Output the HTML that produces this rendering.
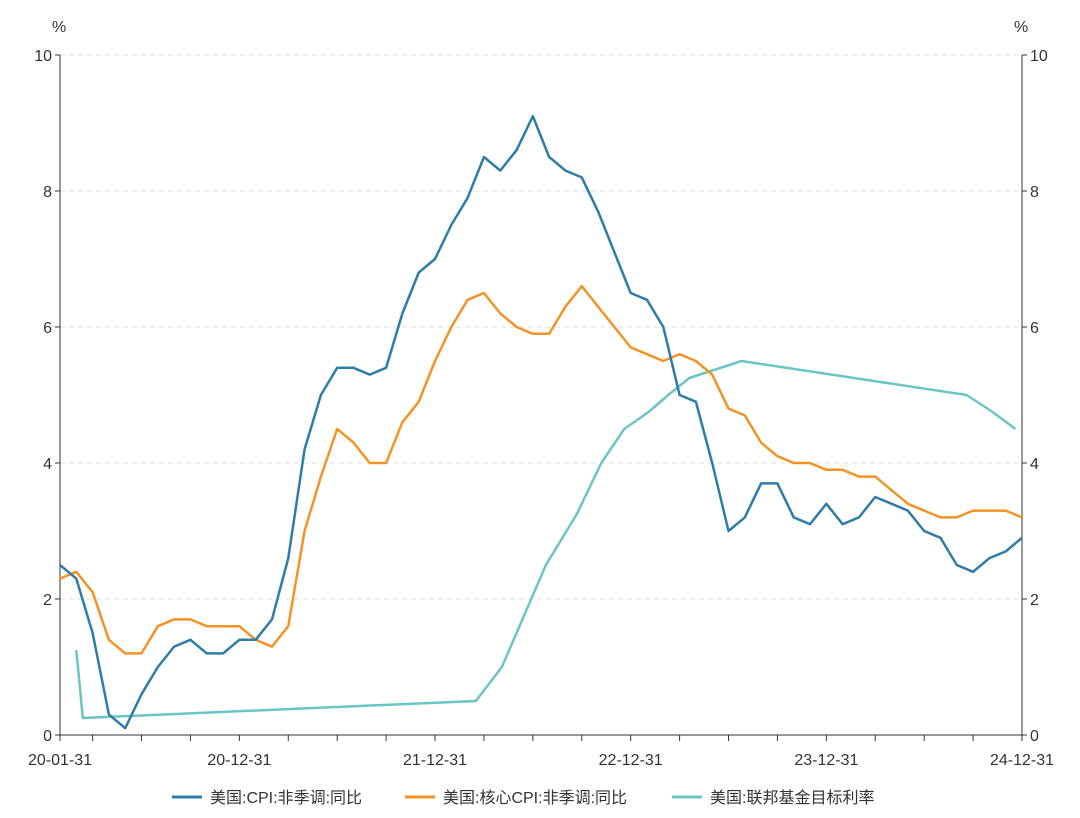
<!DOCTYPE html>
<html><head><meta charset="utf-8"><style>
body{margin:0;background:#fff;}
svg{display:block;font-family:"Liberation Sans","Noto Sans CJK SC",sans-serif;}
</style></head><body>
<svg id="c" width="1080" height="818"></svg>
<script>
const cpi=[2.5,2.3,1.5,0.3,0.1,0.6,1.0,1.3,1.4,1.2,1.2,1.4,1.4,1.7,2.6,4.2,5.0,5.4,5.4,5.3,5.4,6.2,6.8,7.0,7.5,7.9,8.5,8.3,8.6,9.1,8.5,8.3,8.2,7.7,7.1,6.5,6.4,6.0,5.0,4.9,4.0,3.0,3.2,3.7,3.7,3.2,3.1,3.4,3.1,3.2,3.5,3.4,3.3,3.0,2.9,2.5,2.4,2.6,2.7,2.9];
const core=[2.3,2.4,2.1,1.4,1.2,1.2,1.6,1.7,1.7,1.6,1.6,1.6,1.4,1.3,1.6,3.0,3.8,4.5,4.3,4.0,4.0,4.6,4.9,5.5,6.0,6.4,6.5,6.2,6.0,5.9,5.9,6.3,6.6,6.3,6.0,5.7,5.6,5.5,5.6,5.5,5.3,4.8,4.7,4.3,4.1,4.0,4.0,3.9,3.9,3.8,3.8,3.6,3.4,3.3,3.2,3.2,3.3,3.3,3.3,3.2];
const fedMonths=[1,1.4,25.5,27.1,29.8,31.7,33.2,34.6,36.1,37.3,38.6,41.8,55.6,57.2,58.6];
const fedRate=[1.25,0.25,0.5,1.0,2.5,3.25,4.0,4.5,4.75,5.0,5.25,5.5,5.0,4.75,4.5];
const xLabels=["20-01-31","20-12-31","21-12-31","22-12-31","23-12-31","24-12-31"];
const xLabelIdx=[0,11,23,35,47,59];
const yTicks=[0,2,4,6,8,10];

const L=60,R=1022,T=55,B=735;
const x=m=>L+m*(R-L)/59, y=v=>B-v*(B-T)/10;
const s=document.getElementById('c'),NS='http://www.w3.org/2000/svg';
function el(t,a,txt){const e=document.createElementNS(NS,t);for(const k in a)e.setAttribute(k,a[k]);if(txt!=null)e.textContent=txt;s.appendChild(e);return e;}
yTicks.forEach(v=>{
 if(v>0){const g=el('line',{x1:L,x2:R,y1:y(v),y2:y(v),stroke:'#ddd','stroke-dasharray':'5,4'});
 
 }
 const a=el('text',{x:L-8,y:y(v)+6,'text-anchor':'end','font-size':16,fill:'#333'},v);
 
 
 const b=el('text',{x:R+8,y:y(v)+6,'font-size':16,fill:'#333'},v);
 
 
 el('line',{x1:L-5,x2:L,y1:y(v),y2:y(v),stroke:'#333'});
 el('line',{x1:R,x2:R+5,y1:y(v),y2:y(v),stroke:'#333'});
});
const la=el('line',{x1:L,x2:L,y1:T,y2:B,stroke:'#333'});
const ra=el('line',{x1:R,x2:R,y1:T,y2:B,stroke:'#333'});
const xa=el('line',{x1:L,x2:R,y1:B,y2:B,stroke:'#333'});
const u1=el('text',{x:52,y:32,'font-size':16,fill:'#333'},'%');
const u2=el('text',{x:1014,y:32,'font-size':16,fill:'#333'},'%');
for(let m=-1;m<=59;m+=3){const mm=m<0?0:m;el('line',{x1:x(mm),x2:x(mm),y1:B,y2:B+6,stroke:'#333'});}
xLabels.forEach((t,i)=>{const e=el('text',{x:x(xLabelIdx[i]),y:B+30,'text-anchor':'middle','font-size':16,fill:'#333'},t);
 
 });
function line(vals,xs,col,name){const p=vals.map((v,i)=>x(xs?xs[i]:i)+','+y(v)).join(' ');
 const e=el('polyline',{points:p,fill:'none',stroke:col,'stroke-width':2.5,'stroke-linejoin':'round'});
 
 }
line(fedRate,fedMonths,'#6cc5c5','fed-rate-line');
line(core,null,'#f39325','core-cpi-line');
line(cpi,null,'#2e7ca8','cpi-line');
const leg=[['美国:CPI:非季调:同比','#2e7ca8',172],['美国:核心CPI:非季调:同比','#f39325',405],['美国:联邦基金目标利率','#6cc5c5',672]];
leg.forEach(l=>{const a=el('line',{x1:l[2],x2:l[2]+30,y1:797,y2:797,stroke:l[1],'stroke-width':3});
 
 
 const t=el('text',{x:l[2]+38,y:803,'font-size':16,fill:'#333'},l[0]);
 
 });
</script>
</body></html>
